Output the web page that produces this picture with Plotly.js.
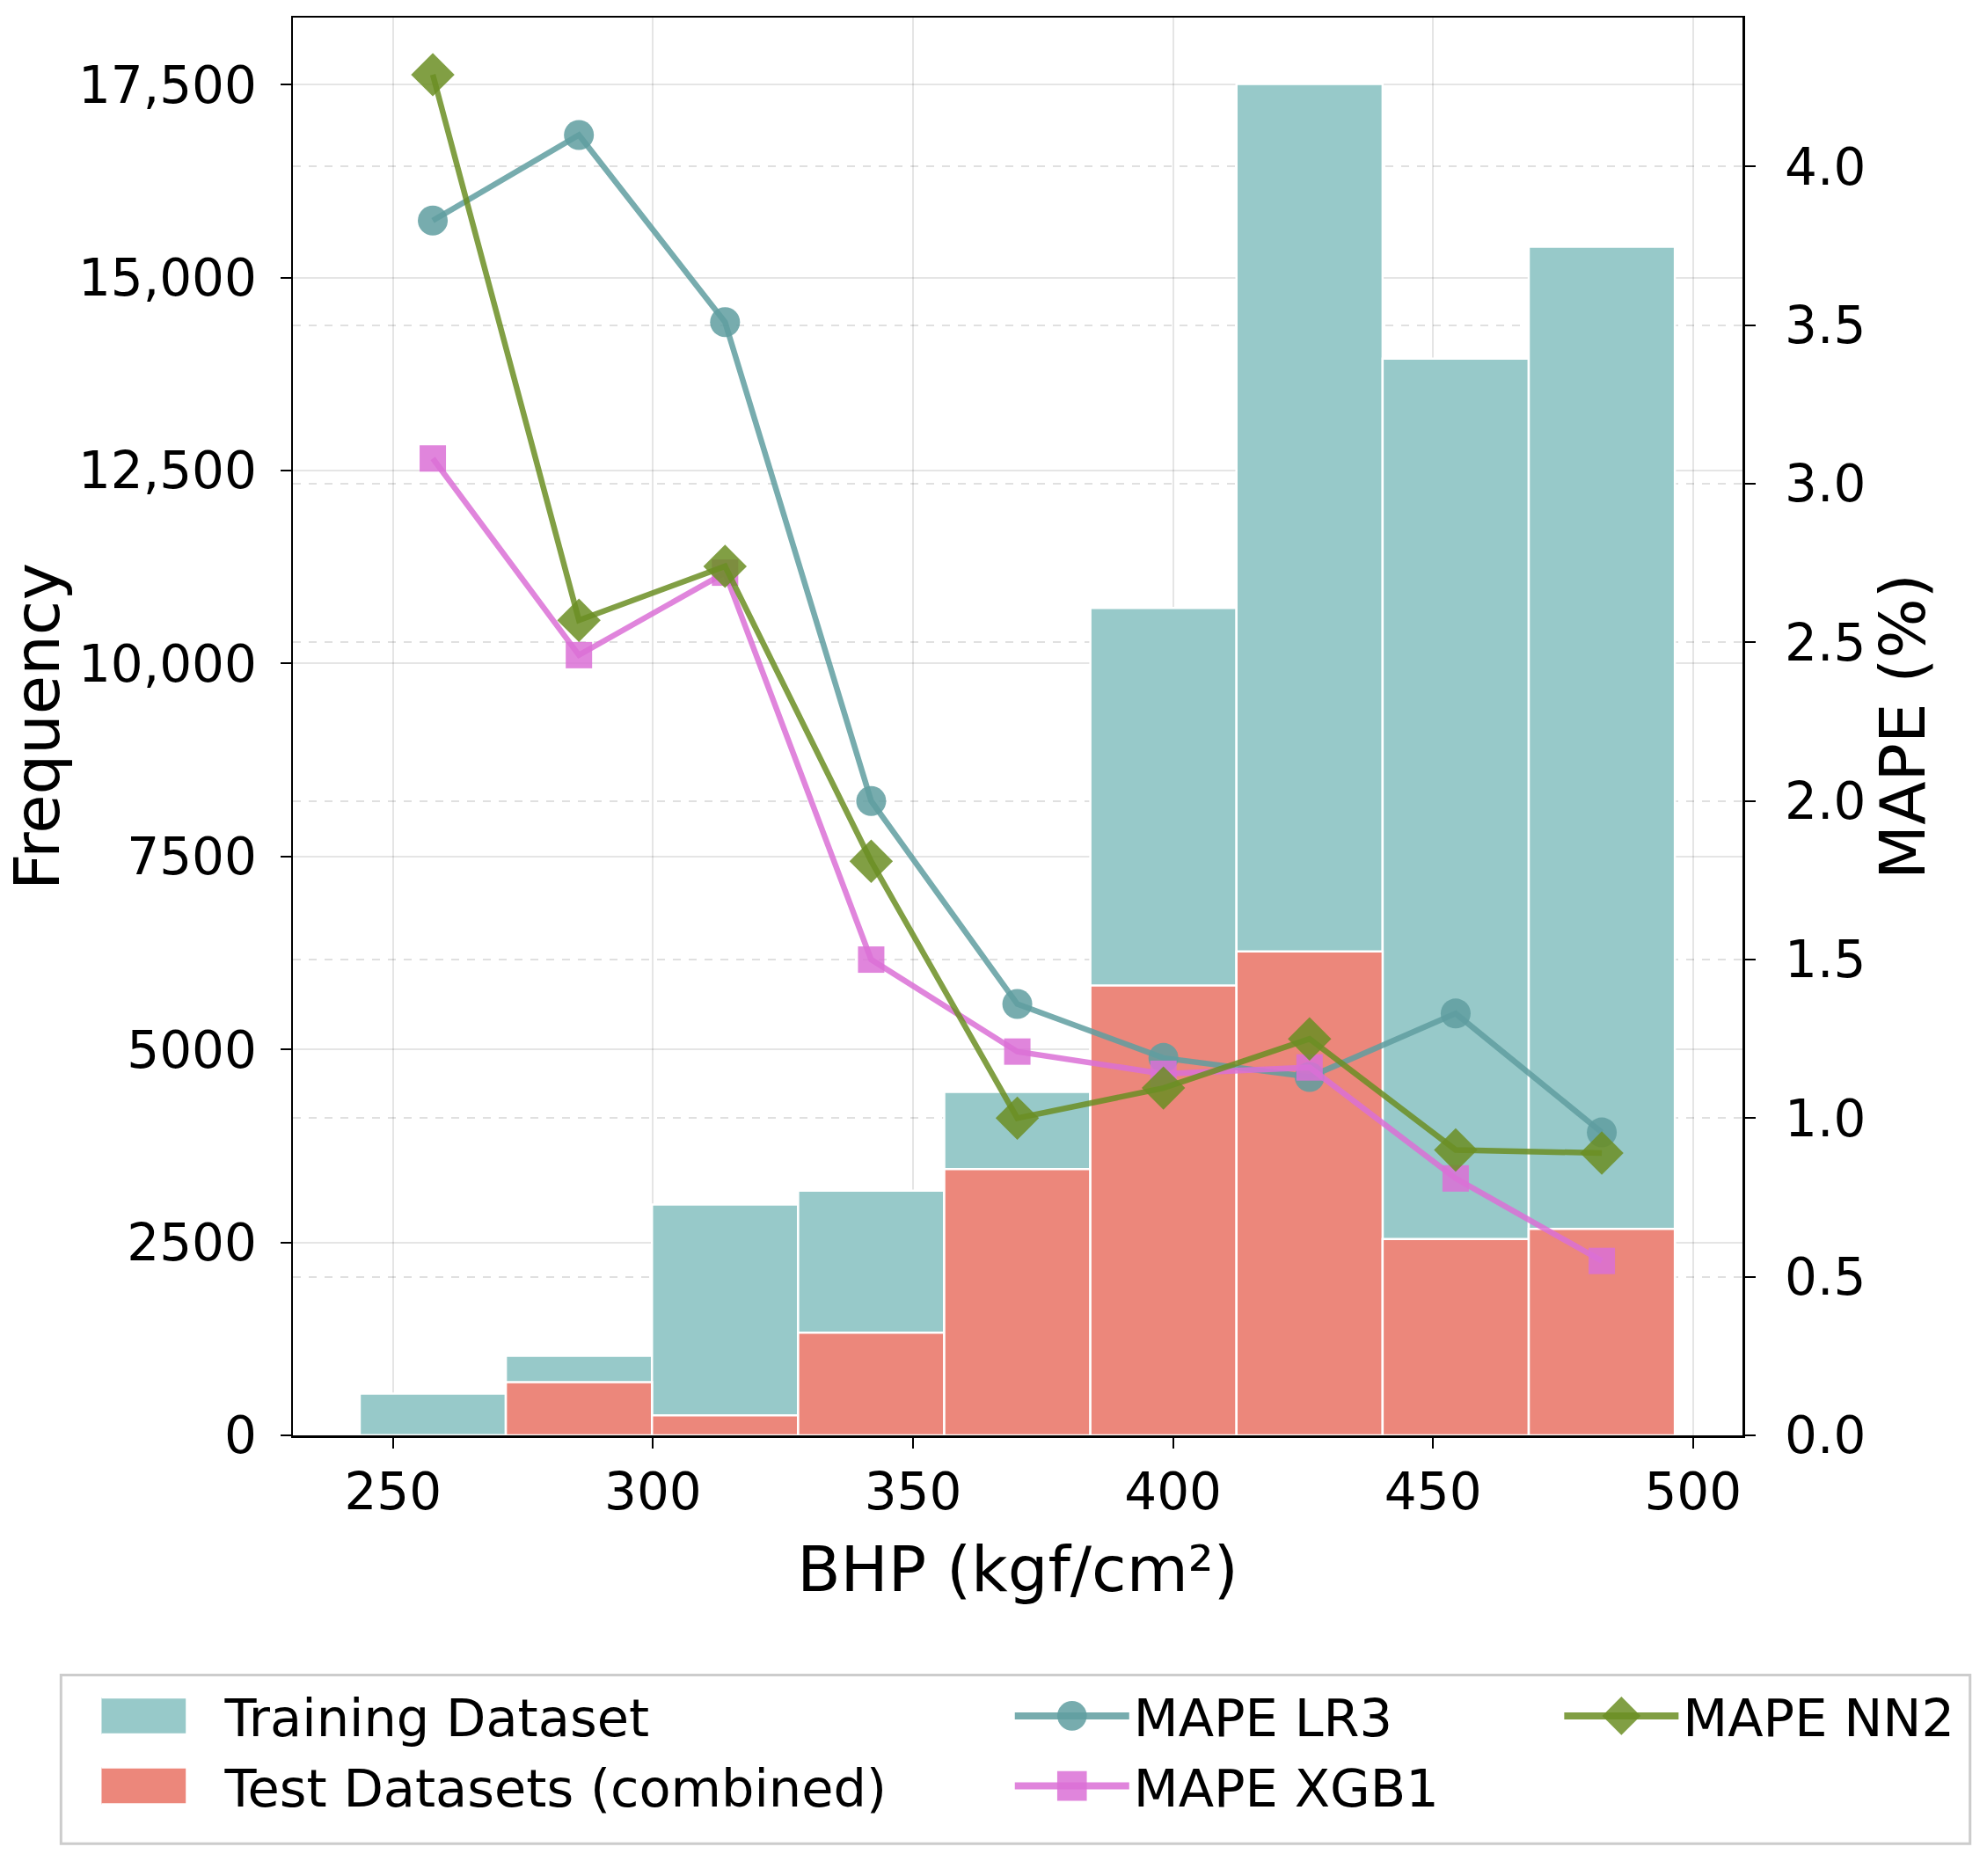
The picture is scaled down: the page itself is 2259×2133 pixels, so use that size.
<!DOCTYPE html>
<html>
<head>
<meta charset="utf-8">
<script src="https://cdn.plot.ly/plotly-3.0.1.min.js"></script>
<style>
  html, body { margin: 0; padding: 0; background: #fff; }
  #chart { width: 2259px; height: 2133px; }
</style>
</head>
<body>
<div id="chart"></div>
<script>
// histogram bins (BHP, kgf/cm²) and counts
const binEdges = [243.6, 271.7, 299.8, 327.9, 356.0, 384.1, 412.2, 440.3, 468.4, 496.5];
const trainCounts = [540, 1030, 2990, 3170, 4450, 10720, 17510, 13950, 15400];
const testCounts = [0, 690, 260, 1330, 3450, 5830, 6270, 2545, 2675];

// MAPE (%) per bin centre
const mapeLR3 = [3.83, 4.10, 3.51, 2.00, 1.36, 1.19, 1.13, 1.33, 0.955];
const mapeXGB1 = [3.08, 2.46, 2.72, 1.50, 1.21, 1.14, 1.16, 0.81, 0.55];
const mapeNN2 = [4.29, 2.57, 2.74, 1.81, 1.00, 1.095, 1.25, 0.90, 0.89];

const freqTicks = [0, 2500, 5000, 7500, 10000, 12500, 15000, 17500];
const freqTickText = ['0', '2500', '5000', '7500', '10,000', '12,500', '15,000', '17,500'];

const COLORS = {
  train: '#97c9c9',
  test: '#ec877b',
  lr3: 'rgba(95,158,160,0.85)',
  xgb1: 'rgba(218,112,214,0.85)',
  nn2: 'rgba(107,142,35,0.85)',
  grid: 'rgba(0,0,0,0.1)',
};
const FONT = 'DejaVu Sans, sans-serif';

const centers = binEdges.slice(0, -1).map((e, i) => (e + binEdges[i + 1]) / 2);
const widths = binEdges.slice(0, -1).map((e, i) => binEdges[i + 1] - e);

function barTrace(name, counts, color, legend) {
  return {
    type: 'bar', name, x: centers, y: counts, width: widths,
    marker: { color, line: { color: '#ffffff', width: 2.5 } },
    legend, legendgroup: name,
  };
}

function mapeTrace(name, vals, color, symbol, size, legend) {
  return {
    type: 'scatter', mode: 'lines+markers', name, x: centers, y: vals, yaxis: 'y2',
    line: { color, width: 6.5 },
    marker: { color, symbol, size },
    legend, legendgroup: name,
  };
}

const traces = [
  barTrace('Training Dataset', trainCounts, COLORS.train, 'legend'),
  barTrace('Test Datasets (combined)', testCounts, COLORS.test, 'legend'),
  mapeTrace('MAPE LR3', mapeLR3, COLORS.lr3, 'circle', 34, 'legend2'),
  mapeTrace('MAPE XGB1', mapeXGB1, COLORS.xgb1, 'square', 30, 'legend2'),
  mapeTrace('MAPE NN2', mapeNN2, COLORS.nn2, 'diamond', 38, 'legend3'),
];

function legendAt(x) {
  return {
    x, xanchor: 'left', y: -0.170, yanchor: 'top',
    orientation: 'v', bgcolor: 'rgba(0,0,0,0)', borderwidth: 0,
    font: { family: FONT, size: 59, color: '#000' },
    itemwidth: 130, itemsizing: 'trace', tracegroupgap: 18, traceorder: 'normal',
  };
}

const layout = {
  width: 2259, height: 2133,
  margin: { l: 333, r: 278, t: 20, b: 501 },
  paper_bgcolor: '#ffffff', plot_bgcolor: '#ffffff',
  font: { family: FONT, color: '#000', size: 58 },
  barmode: 'overlay', bargap: 0,
  showlegend: true,
  xaxis: {
    range: [230.75, 509.5], tickvals: [250, 300, 350, 400, 450, 500],
    ticks: 'outside', ticklen: 12, tickwidth: 2, tickcolor: '#000',
    showline: true, linecolor: '#000', linewidth: 2.5, mirror: true,
    showgrid: true, gridcolor: COLORS.grid, gridwidth: 2, zeroline: false,
    tickfont: { size: 58 },
    title: { text: 'BHP (kgf/cm²)', font: { size: 72 }, standoff: 30 },
  },
  yaxis: {
    range: [0, 18370], tickvals: freqTicks, ticktext: freqTickText,
    ticks: 'outside', ticklen: 12, tickwidth: 2, tickcolor: '#000', ticklabelstandoff: 15,
    showline: true, linecolor: '#000', linewidth: 2.5, mirror: true,
    showgrid: true, gridcolor: COLORS.grid, gridwidth: 2, zeroline: false,
    tickfont: { size: 58 },
    title: { text: 'Frequency', font: { size: 72 }, standoff: 4 },
  },
  yaxis2: {
    overlaying: 'y', side: 'right', range: [0, 4.47], dtick: 0.5, tick0: 0,
    tickformat: '.1f',
    ticks: 'outside', ticklen: 12, tickwidth: 2, tickcolor: '#000', ticklabelstandoff: 22,
    showline: true, linecolor: '#000', linewidth: 2.5,
    showgrid: true, gridcolor: 'rgba(0,0,0,0.12)', gridwidth: 2, griddash: 'dash', zeroline: false,
    tickfont: { size: 58 },
    title: { text: 'MAPE (%)', font: { size: 72 }, standoff: 8 },
  },
  legend: legendAt(-0.132),
  legend2: legendAt(0.495),
  legend3: legendAt(0.874),
  shapes: [{
    type: 'rect', xref: 'paper', yref: 'paper',
    x0: -0.160, x1: 1.157, y0: -0.288, y1: -0.169,
    line: { color: '#cccccc', width: 3 }, fillcolor: 'rgba(0,0,0,0)', layer: 'above',
  }],
};

Plotly.newPlot('chart', traces, layout, { displayModeBar: false, staticPlot: true }).then((gd) => {
  // matplotlib-style legend patches: wide bar swatches, bigger markers, thicker lines
  gd.querySelectorAll('g.legendpoints path').forEach((p) => {
    const d = (p.getAttribute('d') || '').replace(/\s/g, '');
    if (d === 'M6,6H-6V-6H6Z') p.setAttribute('d', 'M27,21H-91V-21H27Z');
  });
  gd.querySelectorAll('g.legendpoints path.scatterpts').forEach((p) => {
    const t = p.getAttribute('transform') || '';
    p.setAttribute('transform', t + ' scale(2.1)');
  });
  gd.querySelectorAll('g.legendlines path').forEach((p) => {
    p.style.strokeWidth = '8px';
  });
});
</script>
</body>
</html>
